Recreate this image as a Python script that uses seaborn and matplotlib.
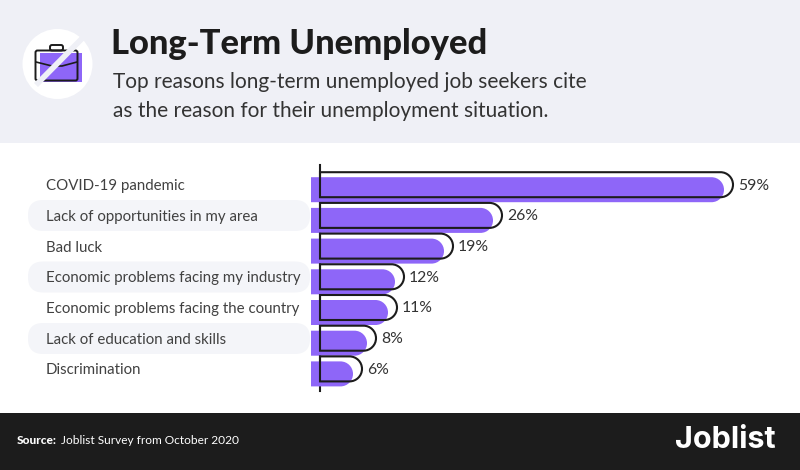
import pandas as pd
import matplotlib
matplotlib.use('Agg')
import matplotlib.pyplot as plt
import seaborn as sns
from matplotlib.lines import Line2D
from matplotlib.patches import Rectangle, FancyBboxPatch, Circle, Polygon, PathPatch
from matplotlib.path import Path
from matplotlib.transforms import Affine2D

# Chart data
reasons = ['COVID-19 pandemic', 'Lack of opportunities in my area', 'Bad luck',
           'Economic problems facing my industry', 'Economic problems facing the country',
           'Lack of education and skills', 'Discrimination']
shares = [59, 26, 19, 12, 11, 8, 6]

title = 'Long-Term Unemployed'
subtitle = ['Top reasons long-term unemployed job seekers cite',
            'as the reason for their unemployment situation.']

PURPLE = '#8e66f8'
INK = '#1c1c1c'
TEXT = '#333333'
LABEL = '#414141'
HEADER = '#eff0f6'
PILL = '#f4f5f9'

W, H = 800, 470

sns.set_theme(style='white')
plt.rcParams['font.family'] = ['Lato', 'DejaVu Sans']

df = pd.DataFrame({'reason': reasons, 'share': shares})

fig = plt.figure(figsize=(W / 100, H / 100), dpi=100, facecolor='white')
# everything outside the axes is placed in pixels from the top left
px = Affine2D().scale(1, -1).translate(0, H)


def rounded_end(x0, x1, y0, y1):
    r = (y1 - y0) / 2
    k = 0.5523 * r
    verts = [(x0, y0), (x1 - r, y0),
             (x1 - r + k, y0), (x1, y0 + r - k), (x1, y0 + r),
             (x1, y0 + r + k), (x1 - r + k, y1), (x1 - r, y1),
             (x0, y1), (x0, y0)]
    codes = [Path.MOVETO, Path.LINETO,
             Path.CURVE4, Path.CURVE4, Path.CURVE4,
             Path.CURVE4, Path.CURVE4, Path.CURVE4,
             Path.LINETO, Path.CLOSEPOLY]
    return Path(verts, codes)


# header and footer bands
fig.add_artist(Rectangle((0, 0), W, 143, transform=px, fc=HEADER, ec='none', zorder=-2))
fig.add_artist(Rectangle((0, 413), W, 57, transform=px, fc=INK, ec='none', zorder=-2))

# grey pills behind every second label, under the axes
for cy in [215.5, 277, 338.5]:
    fig.add_artist(FancyBboxPatch((28, cy - 15.5), 282, 31, transform=px, zorder=-1,
                                  boxstyle='round,pad=0,rounding_size=15', fc=PILL, ec='none'))

# plot area: x=0 sits on the 320 px axis line, 7 px per percent
ax = fig.add_axes([320 / W, 1 - 391 / H, 470 / W, (391 - 165) / H])
ax.patch.set_alpha(0)
sns.barplot(data=df, x='share', y='reason', order=reasons, color=PURPLE, width=25 / 30.7,
            saturation=1, ax=ax, legend=False)
ax.set_xlim(0, 470 / 7)
# first row centre at 184.7 px, rows 30.7 px apart
ax.set_ylim((391 - 184.7) / 30.7, (165 - 184.7) / 30.7)
ax.set_xlabel('')
ax.set_ylabel('')
ax.set_xticks([])
# pad is in points: 274 px from the axis line
ax.tick_params(axis='y', length=0, pad=274 * 0.72, labelsize=10.8, labelcolor=LABEL)
for lab in ax.get_yticklabels():
    lab.set_ha('left')
sns.despine(ax=ax, top=True, right=True, bottom=True)
ax.spines['left'].set_color(INK)
ax.spines['left'].set_linewidth(1.5)
ax.spines['left'].set_zorder(6)

# swap each bar for a shifted purple bar and a rounded outline, same geometry
for bar, value in zip(list(ax.patches), shares):
    xa, ya = bar.get_x(), bar.get_y()
    xb, yb = xa + bar.get_width(), ya + bar.get_height()
    x0, y0 = ax.transData.transform((xa, ya))
    x1, y1 = ax.transData.transform((xb, yb))
    y0, y1 = H - y0, H - y1
    bar.set_visible(False)
    fig.add_artist(PathPatch(rounded_end(x0 - 9, x1 - 9, y0 + 5, y1 + 5), transform=px,
                             fc=PURPLE, ec='none', zorder=3))
    fig.add_artist(PathPatch(rounded_end(x0, x1, y0, y1), transform=px,
                             fc='none', ec=INK, lw=1.5, zorder=4))
    ax.annotate(f'{value}%', (value, ya + bar.get_height() / 2), xytext=(3.6, -0.7),
                textcoords='offset points', va='center', ha='left', fontsize=11.3,
                color=TEXT, zorder=7)

# header text
fig.text(111 / W, 1 - 44 / H, title, fontsize=24.8, fontweight='black', color=INK, va='center', ha='left')
fig.text(113 / W, 1 - 82 / H, subtitle[0], fontsize=15, color=TEXT, va='center', ha='left')
fig.text(113 / W, 1 - 111 / H, subtitle[1], fontsize=15, color=TEXT, va='center', ha='left')

# briefcase icon
fig.add_artist(Circle((57.5, 64), 35, transform=px, fc='white', ec='none', zorder=5))
fig.add_artist(Rectangle((40, 53), 42, 29, transform=px, fc=PURPLE, ec='none', zorder=6))
fig.add_artist(FancyBboxPatch((35.5, 50.5), 42, 30, boxstyle='round,pad=0,rounding_size=2', transform=px,
                              fc='none', ec=INK, lw=1.4, zorder=7))
fig.add_artist(FancyBboxPatch((50, 45), 13, 5.5, boxstyle='round,pad=0,rounding_size=2', transform=px,
                              fc='none', ec=INK, lw=1.4, zorder=7))
fig.add_artist(Line2D([36, 52, 62, 77], [62, 66, 66, 62], transform=px, color=INK, lw=1.2, zorder=7))
fig.add_artist(Polygon([(81, 35.5), (85, 39.5), (38, 87), (34, 83)], transform=px, fc=HEADER, ec='none', zorder=8))

# footer text
fig.text(17 / W, 1 - 441 / H, 'Source:', fontsize=8.6, fontweight='black', color='white', va='center', ha='left')
fig.text(61 / W, 1 - 441 / H, 'Joblist Survey from October 2020', fontsize=8.6, color='white', va='center', ha='left')
fig.text(675 / W, 1 - 440 / H, 'Joblist', fontsize=22, fontweight='bold', family='Inter', color='white', va='center', ha='left')

fig.savefig('out.png', dpi=100)
